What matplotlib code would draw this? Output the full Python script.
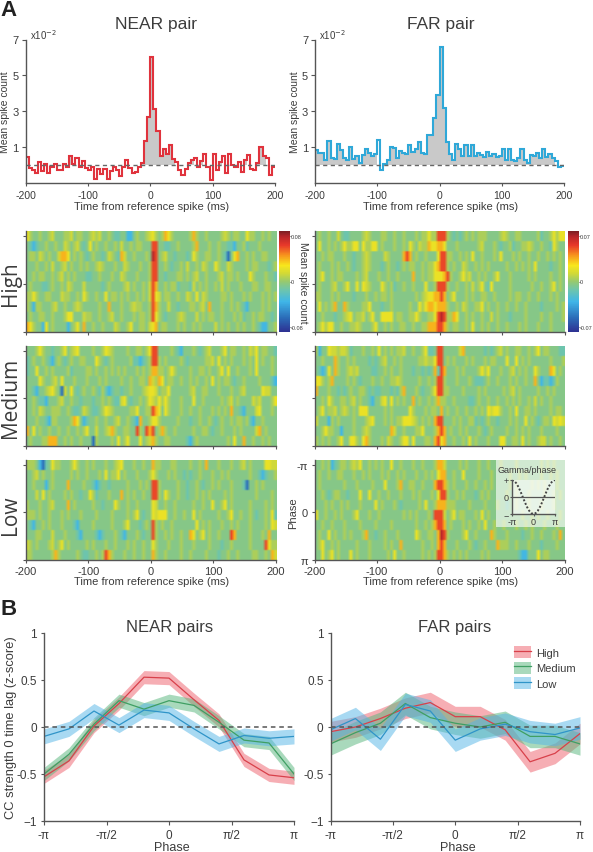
import numpy as np
import matplotlib
matplotlib.use('Agg')
import matplotlib.pyplot as plt
from matplotlib.colors import LinearSegmentedColormap, Normalize
from matplotlib.cm import ScalarMappable
from matplotlib.legend_handler import HandlerTuple
from matplotlib.lines import Line2D
from matplotlib.patches import Patch, Rectangle

plt.rcParams['font.family'] = ['Liberation Sans', 'DejaVu Sans']
plt.rcParams['axes.unicode_minus'] = False

W, H = 593, 853
TXT = '#3c3c3c'
AX = '#555555'

#%% Cross-correlograms, 5 ms bins, in units of 1e-2
near_hist = [.45, -.15, -.3, -.45, .15, -.35, .05, -.45, -.1, .05,
             -.3, -.3, .05, -.1, .5, .05, .4, -.1, .2, -.15,
             -.3, -.1, -.75, -.2, -.5, -.2, -.75, -.35, -.1, -.3,
             -.6, -.1, .3, -.15, -.45, -.4, -.1, .1, 1.35, 2.7,
             6.0, 3.1, 1.9, .5, .9, .6, 1.1, .35, .15, -.3,
             -.55, -.2, .1, .3, .4, -.1, .2, .6, -.1, -.85,
             .6, -.3, .15, .5, -.45, .6, .0, -.1, .15, -.4,
             .3, .55, -.2, -.3, .1, 1.0, .5, .4, -.55, -.1]
far_hist = [.85, .7, .65, .3, 1.35, .4, .35, 1.2, .85, .4,
            .3, 1.0, .35, .5, .1, .55, .9, .7, .5, .6,
            1.4, -.3, .05, .3, 1.0, .95, .4, .8, .7, .6,
            1.1, .75, .9, 1.3, .7, .6, 1.7, 1.65, 2.6, 3.9,
            6.6, 3.2, 1.3, .6, .3, 1.2, .9, .5, 1.1, .5,
            1.1, .5, .7, .55, .45, .75, .5, .6, .45, .5,
            .9, .3, .9, .3, .2, .4, .9, .3, .1, .55,
            .5, .7, .4, .9, .45, .6, .4, .25, -.1, -.05]

t_edges = np.arange(-200, 201, 5)

#%% Spike count maps, one string per phase row, one digit per 5 ms bin
near_high = ["6433433453 3344534433 4545334322 3311343345 6434764333 3347433433 3345434433 6443343433",
             "3212334334 3354345323 6343343343 5334344333 8833223343 3334733343 3433221334 2333433333",
             "3443543433 5776343432 3433235432 7533433343 9834533233 3236433443 3432036733 4343344333",
             "3334334353 3453433434 3345433343 3543334334 8833432334 3533435433 6433543333 4344333234",
             "3343443343 4534343332 2334333433 5433343334 8833233344 3434533433 3453443433 3643334332",
             "3433322343 3435433353 3333234333 3453433435 8733434423 3325343433 4353433343 3344334433",
             "4464334433 3544334364 3343363443 4343343435 8653443343 3543635433 3344343334 3433343434",
             "4314433345 3343345433 3334337333 4334544334 8743353323 3344345373 3343343432 1333343433",
             "3433443343 3346633354 4334334533 4333434434 8643233345 4333534344 3343334342 3343443323",
             "7643316343 3331346373 3433433354 3346334435 6734433343 4334343333 5343433434 3343211334"]
far_high = ["3433433532 2333345433 3443343343 3343446448 8843232343 4344433334 5433443333 3423346466",
            "3633434346 4466364466 3433343343 6435447667 7633343333 3345333432 3342334454 3343326433",
            "3343443334 3323345433 3354333378 7343343336 8844334343 6334333436 3334343343 3433434343",
            "3433343433 4323345433 3234332343 4433434467 8843433543 3434343333 3433434343 6333323343",
            "3463343443 3334345333 4334334333 3733434466 6784334645 3343433463 3343333343 4333343343",
            "3433345334 6336365433 3643423343 3433363348 8843343343 5346326333 3343333334 3343346343",
            "4433343433 3323334334 3443433333 3343456677 8734633343 4334433433 3343443343 3433343433",
            "3634347337 4333344633 3233433333 4336467767 7743343543 3446343343 3433433433 3323333434",
            "3343332334 5634453463 3666634433 4464334468 9844763343 4334335343 3323333433 3343343334",
            "3464663343 3445433346 3343433443 3433447778 8743443343 6334343343 3433343433 3433343333"]
near_medium = ["3334643323 3463456333 3433465433 3343344346 8833334321 3334323453 3346344334 3546344332",
               "2343343213 4323433443 3364323433 3334221234 8843433334 3233333445 3634343334 3436343343",
               "2336334343 3334233334 4343343434 3433343434 7744346433 3343344343 3463633433 3436333343",
               "3333643345 3633343334 3334343333 4334334437 5476344334 3343433436 3434432334 3333433321",
               "3321334564 3053632343 3432421233 2334333456 6534463333 3345334433 3433343345 3333365533",
               "3343221333 4533433233 3233434322 5632334346 5464643334 3336334333 3343453433 3354533346",
               "3343543344 4334322354 3223465433 3334463344 8763643334 3343343334 3434373321 3335633343",
               "3334332144 3333476312 3343343345 3343217334 6643333343 3323343343 2343343443 4213343333",
               "7363433433 4334334346 3353345743 3443384387 8347433433 3334334432 3343334343 3335734333",
               "3433344777 3343433433 3043333436 3463336345 7433443333 3213433333 3333436337 3343343433"]
far_medium = ["4133655455 4233343343 6343434453 3433462238 8333335733 3333232345 3433443343 4634433322",
              "3343337433 4343333232 3453343433 3334454468 8343433343 4333434433 3633634343 3333343334",
              "3212637433 4545333322 3343433433 3233232372 8733343433 3346463334 3345343433 6433376343",
              "6643473333 4343233343 3433445433 3334334348 8433343334 3222343343 3343433433 7312212433",
              "7333433232 3433443232 2333232473 3343233468 8443333433 3343433333 4345343333 3433434333",
              "3343643344 3453433213 3563634343 3734334347 4433433332 2343343343 3434343343 5343343333",
              "3463445345 4343666333 3343433333 6433343443 7343343343 3434365664 3343633443 4333343443",
              "5333143433 3343334563 3343434466 6543434378 8333434334 4232343323 3343433634 3234436565",
              "3346443313 3343345433 3333753343 3344633347 8734334343 3343234333 3433434343 3343333433",
              "4343433463 3664367433 3435433466 3633344378 6733433436 3433343336 6334436343 3455343343"]
near_low = ["4443102364 4333464334 3433343345 6333433433 7443334433 3343343733 3433343345 3433336655",
            "3345343343 3333434334 3334363446 3433343334 6433343433 2323343334 3343433333 3433212334",
            "3343331343 3337333343 3212332333 3343334343 8843333343 3233432334 3433343332 0334343333",
            "3335363433 3343433233 6423334333 7343433433 8843643343 3233434343 3334343333 3334333343",
            "4333433453 3337343333 3433233364 3343343333 6533433433 3334334336 3346343333 3433334343",
            "4443433433 3434333433 3343333433 3343463233 6566633433 4336343333 3433463343 3432334362",
            "3213343433 3433321333 3433333433 3463332343 8434334333 3333634343 3343343433 3433334365",
            "3334433353 3343332133 3321233343 2133343233 8433434334 3376346343 3433387333 3433343733",
            "5434333453 4634333334 3433343343 3343433433 6433343334 3334333343 3323343333 3433338644",
            "4433333347 4333334322 3343487433 3433433433 7433433334 3343333433 3233433433 3344334375"]
far_low = ["3343412344 3454633434 3433633433 3433433347 7533334343 3343343334 3333433333 3343434333",
           "3433433443 3343343433 3434334343 3343343436 7733433633 3343334333 3343343433 3343343433",
           "3433333334 3334333343 3363334733 4433433378 8743433343 3433434333 3343433334 3434333433",
           "3343234433 2333633633 4334333433 3434333436 8843343433 3234343333 3433433343 3334334343",
           "3334343343 4333433336 3433343233 3334363347 7744433334 3333433343 3233433343 3343334333",
           "6334334343 3346333433 4333333343 4343334388 8534634433 3436343333 3333334334 3433433343",
           "3343343334 3333433334 3333433333 3343343478 8734333434 3343633433 4333433434 3334333433",
           "3433634334 3433347332 3343334333 3364334437 9843333463 3433337433 3433332334 3343334373",
           "3463343433 3334333433 3343433733 3333433437 8733343334 3233433374 4433433343 3323333433",
           "3363463433 3634333433 3334363343 3333434348 8743434343 3334343333 3333321133 3634433333"]

# map from digit to fraction of colour scale
levels = [-.7, -.38, -.17, -.07, .06, .15, .26, .44, .68, .88]
row_labels = ['High', 'Medium', 'Low']

#%% Zero lag strength against gamma phase
phase_ticks = [-np.pi, -np.pi/2, 0, np.pi/2, np.pi]
phase_labels = ['-π', '-π/2', '0', 'π/2', 'π']
phase = np.linspace(-np.pi, np.pi, 11)
near_red = [-.53, -.36, .01, .25, .53, .52, .29, .07, -.35, -.51, -.54]
near_green = [-.5, -.29, .03, .28, .19, .28, .23, .05, -.14, -.17, -.5]
near_blue = [-.1, -.02, .17, .02, .18, .15, -.02, -.18, -.09, -.12, -.1]
far_red = [-.05, .0, .09, .2, .26, .11, .11, -.03, -.37, -.28, -.07]
far_green = [-.18, -.06, .04, .25, .1, .04, .0, .05, -.1, -.1, -.18]
far_blue = [-.03, .09, -.13, .24, .17, -.14, -.02, .03, -.05, -.08, -.01]
near_err = [.07, .07, .08]
far_err = [.11, .12, .12]
series_names = ['High', 'Medium', 'Low']
line_cols = ['#d8404a', '#3f9f63', '#2f94c8']
band_cols = ['#ee5f6b', '#55b57a', '#52b4e6']

# inset curve
inset_x = np.linspace(-np.pi, np.pi, 21)
inset_y = [1, .95, .81, .59, .31, 0, -.31, -.59, -.81, -.95, -1,
           -.95, -.81, -.59, -.31, 0, .31, .59, .81, .95, 1]


def axes_px(x0, y0, x1, y1):
    return fig.add_axes([x0/W, 1 - y1/H, (x1-x0)/W, (y1-y0)/H])


def text_px(x, y, s, **kw):
    kw.setdefault('color', TXT)
    kw.setdefault('ha', 'center')
    kw.setdefault('va', 'center')
    fig.text(x/W, 1 - y/H, s, **kw)


def clean_axes(ax):
    ax.spines['top'].set_visible(False)
    ax.spines['right'].set_visible(False)
    for s in ['left', 'bottom']:
        ax.spines[s].set_color(AX)
        ax.spines[s].set_linewidth(1.0)
    ax.tick_params(colors=TXT, color=AX, labelsize=7.5, length=3, width=.8, pad=2)


def parse_map(rows):
    return np.array([[levels[int(c)] for c in r.replace(' ', '')] for r in rows])


fig = plt.figure(figsize=(W/100, H/100), dpi=100)
heat = LinearSegmentedColormap.from_list('heat', [
    (0, '#2e3192'), (.14, '#2b6cb8'), (.3, '#3fb6e8'), (.42, '#6fc5ab'), (.5, '#97c96f'),
    (.58, '#d2d936'), (.66, '#f8e71c'), (.76, '#f7941d'), (.86, '#e8392a'), (.95, '#b5252a'), (1, '#7b1f23')])

#%% Panel A, correlograms
for vals, col, box, name, tx in [(near_hist, '#e0333d', (25.5, 40.5, 275, 184), 'NEAR pair', 156),
                                 (far_hist, '#2fa8d8', (315, 40.5, 564, 184), 'FAR pair', 441)]:
    ax = axes_px(*box)
    vals = np.array(vals)
    ax.fill_between(t_edges, np.r_[vals, vals[-1]], 0, step='post', where=np.r_[vals, vals[-1]] > 0,
                    color='#c9c9c9', lw=0)
    ax.stairs(vals, t_edges, color=col, lw=1.5)
    ax.axhline(0, color='#666666', lw=1, ls=(0, (3, 2.5)))
    ax.set_xlim(-200, 200)
    ax.set_ylim(-1, 7)
    ax.set_xticks([-200, -100, 0, 100, 200])
    ax.set_yticks([1, 3, 5, 7])
    clean_axes(ax)
    ax.tick_params(axis='x', length=2, pad=3)
    ax.tick_params(axis='y', labelsize=8)
    text_px(tx, 25, name, fontsize=12.5)
    text_px(box[0] + 4, 35, 'x10$^{-2}$', fontsize=7, ha='left')
    text_px((box[0] + box[2])/2 + 1, 206.5, 'Time from reference spike (ms)', fontsize=8)
    text_px(box[0] - 20, 112, 'Mean spike count', fontsize=7.5, rotation=90)

#%% Panel A, maps
rows_y = [(232, 333), (347, 447), (461, 561)]
grid = [[near_high, near_medium, near_low], [far_high, far_medium, far_low]]
for i, xs in enumerate([(25.5, 276), (314.5, 564.5)]):
    for j, ys in enumerate(rows_y):
        ax = axes_px(xs[0], ys[0], xs[1], ys[1])
        # repeat rows so the soft interpolation only blurs along time
        ax.imshow(np.repeat(parse_map(grid[i][j]), 6, axis=0), cmap=heat, vmin=-1, vmax=1, aspect='auto',
                  extent=[-200, 200, np.pi, -np.pi - .33], interpolation='bilinear')
        ax.set_xlim(-200, 200)
        ax.set_ylim(np.pi, -np.pi - .33)
        ax.set_xticks([-200, -100, 0, 100, 200])
        ax.set_yticks([-np.pi, 0, np.pi])
        clean_axes(ax)
        ax.tick_params(length=2.5, pad=2)
        if j < 2:
            ax.set_xticklabels([])
        else:
            ax.tick_params(axis='x', labelsize=8, pad=2)
            text_px((xs[0] + xs[1])/2 + 1, 582.5, 'Time from reference spike (ms)', fontsize=8)
        if i == 1 and j == 2:
            ax.set_yticklabels(['-π', '0', 'π'])
            ax.tick_params(axis='y', labelsize=8, pad=2)
            text_px(293, 513, 'Phase', fontsize=8, rotation=90)
            ax.add_patch(Rectangle((.725, .33), .275, .67, transform=ax.transAxes,
                                   fc='white', alpha=.62, ec='none'))
            text_px(527.5, 471, 'Gamma/phase', fontsize=6.5)
        else:
            ax.set_yticklabels([])

for name, y in zip(row_labels, [283.5, 397.5, 515]):
    text_px(10.5, y, name, fontsize=15, rotation=90, family=['Open Sans', 'DejaVu Sans'])

# gamma phase inset
ins = axes_px(512, 481, 555, 515)
ins.patch.set_facecolor('white')
ins.patch.set_alpha(.5)
ins.plot(inset_x, inset_y, color='#444444', lw=1.4, ls=(0, (1, 1)))
ins.axhline(0, color=AX, lw=.9)
ins.set_xlim(-np.pi, np.pi)
ins.set_ylim(-1, 1)
ins.set_xticks([-np.pi, 0, np.pi])
ins.set_xticklabels(['-π', '0', 'π'])
ins.set_yticks([-1, 0, 1])
ins.set_yticklabels(['−', '0', '+'])
clean_axes(ins)
ins.tick_params(labelsize=6.5, length=1.5, pad=1)

# colour bars
for box, lim in [((279, 232, 289.5, 333), .08), ((568, 232, 578.5, 333), .07)]:
    cax = axes_px(*box)
    cb = fig.colorbar(ScalarMappable(Normalize(-lim, lim), heat), cax=cax)
    cb.outline.set_visible(False)
    cb.set_ticks([-lim*.9, 0, lim*.9])
    cb.set_ticklabels([f'-{lim}', '0', f'{lim}'])
    cax.tick_params(labelsize=4, length=1, width=.6, pad=.2, colors=TXT)
text_px(303, 283, 'Mean spike count', fontsize=7.5, rotation=270)

#%% Panel B
for box, ser, errs, name, tx, ylab in [((44, 634, 294, 822), (near_red, near_green, near_blue), near_err, 'NEAR pairs', 170, True),
                                       ((330.5, 634, 580, 822), (far_red, far_green, far_blue), far_err, 'FAR pairs', 455, False)]:
    ax = axes_px(*box)
    handles = []
    for vals, err, lc, bc, lab in zip(ser, errs, line_cols, band_cols, series_names):
        vals = np.array(vals)
        ax.fill_between(phase, vals - err, vals + err, color=bc, alpha=.5, lw=0)
        ax.plot(phase, vals, color=lc, lw=.9)
        handles.append((Patch(fc=bc, alpha=.5, lw=0), Line2D([], [], color=lc, lw=.9)))
    ax.axhline(0, color='#555555', lw=1.1, ls=(0, (3, 2.5)))
    ax.set_xlim(-np.pi, np.pi)
    ax.set_ylim(-1, 1)
    ax.set_xticks(phase_ticks)
    ax.set_xticklabels(phase_labels)
    ax.set_yticks([-1, -.5, 0, .5, 1])
    ax.set_yticklabels(['−1', '-0.5', '0', '0.5', '1'])
    clean_axes(ax)
    ax.tick_params(labelsize=8.5, pad=3)
    ax.tick_params(axis='y', length=2)
    text_px(tx, 628, name, fontsize=12)
    text_px((box[0] + box[2])/2 + 3, 848, 'Phase', fontsize=9)
    if ylab:
        text_px(11, 728, 'CC strength 0 time lag (z-score)', fontsize=9.3, rotation=90)
    else:
        ax.legend(handles, series_names, handler_map={tuple: HandlerTuple(ndivide=1, pad=0)},
                  frameon=False, loc='upper left', bbox_to_anchor=(.714, .96), fontsize=8,
                  handlelength=1.55, handleheight=1.3, labelspacing=.3, handletextpad=.4,
                  borderpad=0, labelcolor=TXT)

text_px(8.5, 10.5, 'A', fontsize=16, fontweight='bold', color='#222222')
text_px(8.5, 609.5, 'B', fontsize=16, fontweight='bold', color='#222222')

plt.savefig('out.png', dpi=100)
